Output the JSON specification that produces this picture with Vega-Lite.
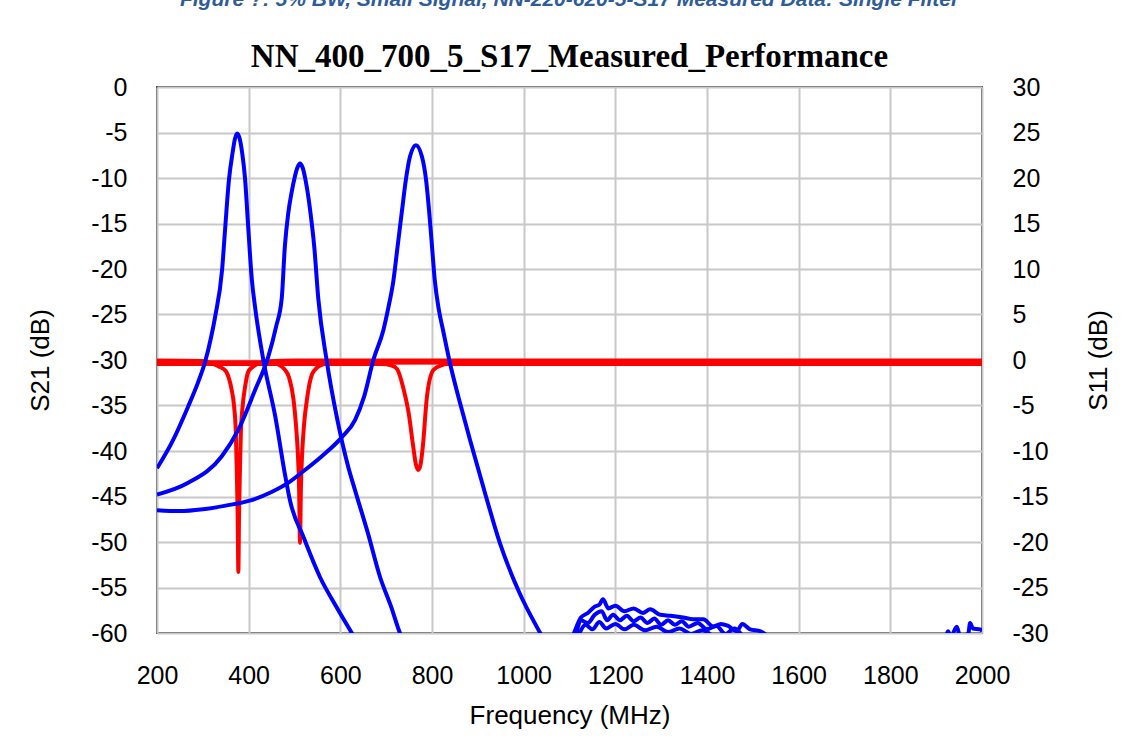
{
  "$schema": "https://vega.github.io/schema/vega-lite/v6.json",
  "width": 825,
  "height": 546,
  "autosize": {"type": "none"},
  "padding": {"left": 157, "top": 87, "right": 143, "bottom": 122},
  "background": "white",
  "title": {
    "text": "Figure ?: 5% BW, Small Signal, NN-220-620-5-S17 Measured Data: Single Filter",
    "subtitle": "NN_400_700_5_S17_Measured_Performance",
    "anchor": "middle",
    "offset": 1,
    "font": "Liberation Sans",
    "fontSize": 21,
    "fontWeight": "bold",
    "fontStyle": "italic",
    "color": "#2E5C99",
    "subtitleFont": "Liberation Serif",
    "subtitleFontSize": 33,
    "subtitleFontWeight": "bold",
    "subtitleColor": "black",
    "subtitlePadding": 31
  },
  "datasets": {
    "s21": [
      {"trace": "A", "f": 200, "db": -41.9}, {"trace": "A", "f": 235, "db": -38.8}, {"trace": "A", "f": 268, "db": -35.1}, {"trace": "A", "f": 290, "db": -32.4},
      {"trace": "A", "f": 305, "db": -30.2}, {"trace": "A", "f": 318, "db": -27.5}, {"trace": "A", "f": 327, "db": -25.2}, {"trace": "A", "f": 342, "db": -20.1},
      {"trace": "A", "f": 348.5, "db": -15.7}, {"trace": "A", "f": 357, "db": -10.2}, {"trace": "A", "f": 365, "db": -7.2}, {"trace": "A", "f": 370, "db": -5.7},
      {"trace": "A", "f": 375, "db": -5.1}, {"trace": "A", "f": 380, "db": -5.6}, {"trace": "A", "f": 386, "db": -7.3}, {"trace": "A", "f": 392, "db": -10},
      {"trace": "A", "f": 398.5, "db": -15}, {"trace": "A", "f": 407, "db": -21.2}, {"trace": "A", "f": 414, "db": -24.2}, {"trace": "A", "f": 432, "db": -30},
      {"trace": "A", "f": 458, "db": -36.2}, {"trace": "A", "f": 480, "db": -42.8}, {"trace": "A", "f": 490, "db": -45.4}, {"trace": "A", "f": 520, "db": -49.5},
      {"trace": "A", "f": 556, "db": -53.9}, {"trace": "A", "f": 590, "db": -57}, {"trace": "A", "f": 625, "db": -60}, {"trace": "A", "f": 660, "db": -63},
      {"trace": "A", "f": 800, "db": -70}, {"trace": "A", "f": 1050, "db": -68}, {"trace": "A", "f": 1100, "db": -63}, {"trace": "A", "f": 1120, "db": -60.2},
      {"trace": "A", "f": 1135, "db": -59.1}, {"trace": "A", "f": 1150, "db": -59.6}, {"trace": "A", "f": 1165, "db": -58.8}, {"trace": "A", "f": 1180, "db": -59.5},
      {"trace": "A", "f": 1200, "db": -59.0}, {"trace": "A", "f": 1220, "db": -59.6}, {"trace": "A", "f": 1240, "db": -59.1}, {"trace": "A", "f": 1265, "db": -59.7},
      {"trace": "A", "f": 1290, "db": -59.3}, {"trace": "A", "f": 1315, "db": -59.9}, {"trace": "A", "f": 1340, "db": -59.5}, {"trace": "A", "f": 1365, "db": -60.1},
      {"trace": "A", "f": 1390, "db": -59.7}, {"trace": "A", "f": 1420, "db": -60.6}, {"trace": "A", "f": 1500, "db": -62}, {"trace": "A", "f": 2000, "db": -63},

      {"trace": "B", "f": 200, "db": -44.8}, {"trace": "B", "f": 268, "db": -43.5}, {"trace": "B", "f": 341, "db": -40.6}, {"trace": "B", "f": 377, "db": -37.7},
      {"trace": "B", "f": 414, "db": -33.3}, {"trace": "B", "f": 443, "db": -29.6}, {"trace": "B", "f": 460, "db": -26.3}, {"trace": "B", "f": 472, "db": -23.3},
      {"trace": "B", "f": 479, "db": -17.5}, {"trace": "B", "f": 486, "db": -14}, {"trace": "B", "f": 494, "db": -11.5}, {"trace": "B", "f": 501, "db": -9.8},
      {"trace": "B", "f": 506, "db": -8.9}, {"trace": "B", "f": 512, "db": -8.4}, {"trace": "B", "f": 518, "db": -8.9}, {"trace": "B", "f": 524, "db": -10.2},
      {"trace": "B", "f": 530, "db": -12}, {"trace": "B", "f": 535, "db": -13.9}, {"trace": "B", "f": 543, "db": -17.5}, {"trace": "B", "f": 552, "db": -23.3},
      {"trace": "B", "f": 570, "db": -30}, {"trace": "B", "f": 592, "db": -36.2}, {"trace": "B", "f": 617, "db": -41.7}, {"trace": "B", "f": 632, "db": -44.3},
      {"trace": "B", "f": 660, "db": -49}, {"trace": "B", "f": 687, "db": -53.9}, {"trace": "B", "f": 710, "db": -57}, {"trace": "B", "f": 730, "db": -60},
      {"trace": "B", "f": 760, "db": -63}, {"trace": "B", "f": 900, "db": -68}, {"trace": "B", "f": 1080, "db": -66}, {"trace": "B", "f": 1110, "db": -61},
      {"trace": "B", "f": 1125, "db": -58.6}, {"trace": "B", "f": 1140, "db": -58.9}, {"trace": "B", "f": 1155, "db": -58.0}, {"trace": "B", "f": 1170, "db": -57.6},
      {"trace": "B", "f": 1182, "db": -58.6}, {"trace": "B", "f": 1195, "db": -58.0}, {"trace": "B", "f": 1210, "db": -58.6}, {"trace": "B", "f": 1225, "db": -58.1},
      {"trace": "B", "f": 1240, "db": -58.7}, {"trace": "B", "f": 1255, "db": -58.3}, {"trace": "B", "f": 1270, "db": -58.9}, {"trace": "B", "f": 1285, "db": -58.4},
      {"trace": "B", "f": 1300, "db": -59.1}, {"trace": "B", "f": 1315, "db": -58.6}, {"trace": "B", "f": 1330, "db": -59.1}, {"trace": "B", "f": 1345, "db": -58.7},
      {"trace": "B", "f": 1360, "db": -59.3}, {"trace": "B", "f": 1380, "db": -58.9}, {"trace": "B", "f": 1400, "db": -59.6}, {"trace": "B", "f": 1420, "db": -59.2},
      {"trace": "B", "f": 1440, "db": -60.1}, {"trace": "B", "f": 1460, "db": -59.5}, {"trace": "B", "f": 1480, "db": -60.4}, {"trace": "B", "f": 1500, "db": -61}, {"trace": "B", "f": 2000, "db": -62},

      {"trace": "C", "f": 200, "db": -46.5}, {"trace": "C", "f": 250, "db": -46.6}, {"trace": "C", "f": 300, "db": -46.4}, {"trace": "C", "f": 350, "db": -46.0},
      {"trace": "C", "f": 406, "db": -45.4}, {"trace": "C", "f": 450, "db": -44.5}, {"trace": "C", "f": 486, "db": -43.5}, {"trace": "C", "f": 520, "db": -42.2},
      {"trace": "C", "f": 559, "db": -40.6}, {"trace": "C", "f": 603, "db": -38.5}, {"trace": "C", "f": 632, "db": -36.6}, {"trace": "C", "f": 652, "db": -34},
      {"trace": "C", "f": 672, "db": -30}, {"trace": "C", "f": 694, "db": -26.7}, {"trace": "C", "f": 705, "db": -24.2}, {"trace": "C", "f": 716, "db": -21.2},
      {"trace": "C", "f": 725, "db": -17.5}, {"trace": "C", "f": 734, "db": -13.8}, {"trace": "C", "f": 743, "db": -10.2}, {"trace": "C", "f": 752, "db": -7.65},
      {"trace": "C", "f": 765, "db": -6.4}, {"trace": "C", "f": 778, "db": -7.65}, {"trace": "C", "f": 787, "db": -10.2}, {"trace": "C", "f": 794, "db": -13.8},
      {"trace": "C", "f": 800, "db": -17.5}, {"trace": "C", "f": 806, "db": -21.2}, {"trace": "C", "f": 815, "db": -24.5}, {"trace": "C", "f": 824, "db": -26.7},
      {"trace": "C", "f": 839, "db": -30.3}, {"trace": "C", "f": 860, "db": -34.5}, {"trace": "C", "f": 883, "db": -38.8}, {"trace": "C", "f": 915, "db": -44.5},
      {"trace": "C", "f": 948, "db": -50.1}, {"trace": "C", "f": 990, "db": -55.5}, {"trace": "C", "f": 1036, "db": -60}, {"trace": "C", "f": 1070, "db": -63},
      {"trace": "C", "f": 1095, "db": -62}, {"trace": "C", "f": 1110, "db": -60}, {"trace": "C", "f": 1125, "db": -58.3}, {"trace": "C", "f": 1140, "db": -57.8},
      {"trace": "C", "f": 1155, "db": -57.1}, {"trace": "C", "f": 1165, "db": -56.9}, {"trace": "C", "f": 1173, "db": -56.3}, {"trace": "C", "f": 1185, "db": -57.3},
      {"trace": "C", "f": 1200, "db": -57.0}, {"trace": "C", "f": 1220, "db": -57.6}, {"trace": "C", "f": 1240, "db": -57.3}, {"trace": "C", "f": 1260, "db": -57.8},
      {"trace": "C", "f": 1276, "db": -57.4}, {"trace": "C", "f": 1298, "db": -58}, {"trace": "C", "f": 1320, "db": -58.1}, {"trace": "C", "f": 1348, "db": -58.3},
      {"trace": "C", "f": 1370, "db": -58.5}, {"trace": "C", "f": 1392, "db": -58.5}, {"trace": "C", "f": 1414, "db": -59.3}, {"trace": "C", "f": 1430, "db": -59.0},
      {"trace": "C", "f": 1445, "db": -59.2}, {"trace": "C", "f": 1465, "db": -59.8}, {"trace": "C", "f": 1477, "db": -59.0}, {"trace": "C", "f": 1494, "db": -59.6},
      {"trace": "C", "f": 1516, "db": -59.8}, {"trace": "C", "f": 1540, "db": -60.5}, {"trace": "C", "f": 1600, "db": -61}, {"trace": "C", "f": 1900, "db": -61},
      {"trace": "C", "f": 1922, "db": -60.2}, {"trace": "C", "f": 1926, "db": -59.8}, {"trace": "C", "f": 1932, "db": -60.4}, {"trace": "C", "f": 1945, "db": -59.3},
      {"trace": "C", "f": 1952, "db": -60.3}, {"trace": "C", "f": 1970, "db": -60.1}, {"trace": "C", "f": 1974, "db": -58.9}, {"trace": "C", "f": 1980, "db": -59.5},
      {"trace": "C", "f": 1996, "db": -59.6}, {"trace": "C", "f": 2000, "db": -59.8}
    ],
    "s11": [
      {"trace": "A", "f": 200, "db": -0.05}, {"trace": "A", "f": 300, "db": -0.1}, {"trace": "A", "f": 318, "db": -0.35}, {"trace": "A", "f": 335, "db": -0.7},
      {"trace": "A", "f": 350, "db": -1.2}, {"trace": "A", "f": 358, "db": -2.2}, {"trace": "A", "f": 363, "db": -3.3}, {"trace": "A", "f": 368, "db": -5},
      {"trace": "A", "f": 372, "db": -8}, {"trace": "A", "f": 374, "db": -12}, {"trace": "A", "f": 376, "db": -17}, {"trace": "A", "f": 377.5, "db": -23.3},
      {"trace": "A", "f": 379, "db": -17}, {"trace": "A", "f": 381, "db": -12}, {"trace": "A", "f": 383, "db": -8}, {"trace": "A", "f": 387, "db": -5},
      {"trace": "A", "f": 392, "db": -3}, {"trace": "A", "f": 399, "db": -1.3}, {"trace": "A", "f": 408, "db": -0.8}, {"trace": "A", "f": 420, "db": -0.4},
      {"trace": "A", "f": 445, "db": -0.15}, {"trace": "A", "f": 500, "db": -0.05}, {"trace": "A", "f": 2000, "db": -0.05},

      {"trace": "B", "f": 200, "db": -0.25}, {"trace": "B", "f": 445, "db": -0.25}, {"trace": "B", "f": 465, "db": -0.5}, {"trace": "B", "f": 478, "db": -1},
      {"trace": "B", "f": 488, "db": -1.9}, {"trace": "B", "f": 498, "db": -4.4}, {"trace": "B", "f": 503, "db": -7}, {"trace": "B", "f": 507, "db": -10},
      {"trace": "B", "f": 510, "db": -14}, {"trace": "B", "f": 512, "db": -20.1}, {"trace": "B", "f": 514, "db": -14}, {"trace": "B", "f": 517, "db": -10},
      {"trace": "B", "f": 521, "db": -7}, {"trace": "B", "f": 527, "db": -4.4}, {"trace": "B", "f": 538, "db": -1.6}, {"trace": "B", "f": 550, "db": -0.8},
      {"trace": "B", "f": 565, "db": -0.45}, {"trace": "B", "f": 590, "db": -0.3}, {"trace": "B", "f": 2000, "db": -0.25},

      {"trace": "C", "f": 200, "db": -0.45}, {"trace": "C", "f": 690, "db": -0.45}, {"trace": "C", "f": 712, "db": -0.6}, {"trace": "C", "f": 724, "db": -1},
      {"trace": "C", "f": 737, "db": -3}, {"trace": "C", "f": 749, "db": -5.8}, {"trace": "C", "f": 759, "db": -9.5}, {"trace": "C", "f": 765, "db": -11.5},
      {"trace": "C", "f": 770, "db": -12.1}, {"trace": "C", "f": 775, "db": -11.5}, {"trace": "C", "f": 780, "db": -9.5}, {"trace": "C", "f": 789, "db": -4},
      {"trace": "C", "f": 803, "db": -1.1}, {"trace": "C", "f": 820, "db": -0.6}, {"trace": "C", "f": 833, "db": -0.45}, {"trace": "C", "f": 2000, "db": -0.45}
    ]
  },
  "layer": [
    {
      "data": {"name": "s11"},
      "mark": {"type": "line", "clip": true, "color": "#ff0000", "strokeWidth": 4, "interpolate": "monotone"},
      "encoding": {
        "x": {"field": "f", "type": "quantitative", "scale": {"domain": [200, 2000], "nice": false},
              "axis": {"title": "Frequency (MHz)", "values": [200, 400, 600, 800, 1000, 1200, 1400, 1600, 1800, 2000], "format": "d", "grid": true, "titlePadding": 14}},
        "y": {"field": "db", "type": "quantitative", "scale": {"domain": [-30, 30], "nice": false},
              "axis": {"orient": "right", "title": "S11 (dB)", "titleAngle": 270, "values": [-30, -25, -20, -15, -10, -5, 0, 5, 10, 15, 20, 25, 30], "grid": false, "labelAlign": "left", "titlePadding": 63}},
        "detail": {"field": "trace"}
      }
    },
    {
      "data": {"name": "s21"},
      "mark": {"type": "line", "clip": true, "color": "#0000ff", "strokeWidth": 4, "interpolate": "monotone"},
      "encoding": {
        "x": {"field": "f", "type": "quantitative", "scale": {"domain": [200, 2000], "nice": false},
              "axis": {"title": "Frequency (MHz)", "values": [200, 400, 600, 800, 1000, 1200, 1400, 1600, 1800, 2000], "format": "d", "grid": true, "titlePadding": 14}},
        "y": {"field": "db", "type": "quantitative", "scale": {"domain": [-60, 0], "nice": false},
              "axis": {"orient": "left", "title": "S21 (dB)", "values": [-60, -55, -50, -45, -40, -35, -30, -25, -20, -15, -10, -5, 0], "grid": true, "titlePadding": 37}},
        "detail": {"field": "trace"}
      }
    }
  ],
  "resolve": {"scale": {"y": "independent"}},
  "config": {
    "view": {"stroke": "#404040", "strokeWidth": 2},
    "axis": {
      "domain": false,
      "ticks": false,
      "tickSize": 0,
      "labelExpr": "replace(datum.label, '−', '-')",
      "labelFont": "Liberation Sans",
      "labelFontSize": 25,
      "labelColor": "black",
      "labelPadding": 30,
      "labelFlush": false,
      "labelOverlap": false,
      "labelBound": false,
      "titleFont": "Liberation Sans",
      "titleFontSize": 26,
      "titleFontWeight": "normal",
      "titleColor": "black",
      "gridColor": "#c8c8c8",
      "gridWidth": 2,
      "gridOpacity": 1
    }
  }
}
